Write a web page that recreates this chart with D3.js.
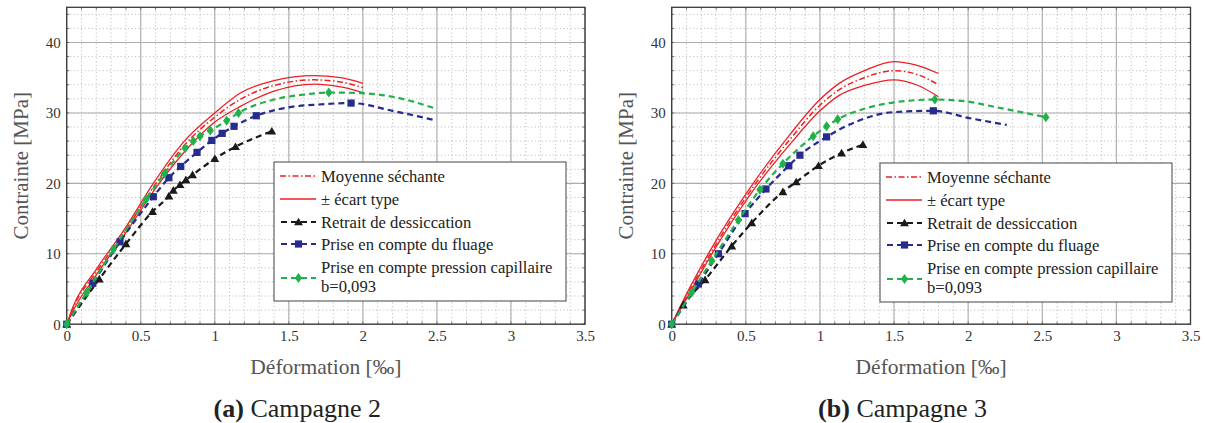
<!DOCTYPE html>
<html><head><meta charset="utf-8">
<script src="https://cdn.jsdelivr.net/npm/d3@7"></script>
<style>
body{margin:0;background:#fff;}
svg text{font-family:"Liberation Serif","Times New Roman",serif;}
</style></head>
<body><svg id="c" width="1205" height="423"></svg>
<script>
// ---- data ----
const xTicks = [0, 0.5, 1, 1.5, 2, 2.5, 3, 3.5];
const yTicks = [0, 10, 20, 30, 40];
const xLabel = "Déformation [‰]";
const yLabel = "Contrainte [MPa]";
const legendLabels = ["Moyenne séchante", "± écart type", "Retrait de dessiccation", "Prise en compte du fluage", "Prise en compte pression capillaire", "b=0,093"];
const captions = [["(a)", " Campagne 2"], ["(b)", " Campagne 3"]];

// Campagne 2
const a_mean  = [[0,0],[0.045,2.4],[0.2,7.4],[0.4,13.4],[0.59,19.6],[0.79,25.3],[1.0,29.4],[1.17,31.9],[1.4,33.9],[1.67,34.7],[1.85,34.4],[2.0,33.6]];
const a_upper = [[0,0],[0.045,2.6],[0.2,7.8],[0.4,13.8],[0.585,20.0],[0.79,25.9],[1.0,30.0],[1.17,32.8],[1.4,34.6],[1.67,35.3],[1.85,35.0],[2.0,34.2]];
const a_lower = [[0,0],[0.05,2.2],[0.2,7.0],[0.4,13.0],[0.6,19.3],[0.8,24.6],[1.0,28.7],[1.17,30.9],[1.4,33.1],[1.67,34.1],[1.85,33.7],[2.0,32.9]];
const a_retrait = [[0,0],[0.22,6.4],[0.4,11.4],[0.58,16.0],[0.69,18.2],[0.72,19.0],[0.765,19.8],[0.805,20.5],[0.85,21.2],[1.0,23.5],[1.14,25.2],[1.385,27.4]];
const a_retrait_marks = [0,1,2,3,4,5,6,7,8,9,10,11];
const a_fluage = [[0,0],[0.176,5.8],[0.36,11.7],[0.585,18.1],[0.69,20.8],[0.77,22.4],[0.88,24.4],[0.98,26.1],[1.05,27.1],[1.13,28.1],[1.28,29.6],[1.5,30.8],[1.7,31.2],[1.92,31.4],[2.2,30.3],[2.48,29.0]];
const a_fluage_marks = [0,1,2,3,4,5,6,7,8,9,10,13];
const a_capil = [[0,0],[0.135,4.5],[0.315,10.6],[0.535,17.7],[0.66,21.4],[0.8,25.0],[0.855,26.0],[0.9,26.7],[0.97,27.5],[1.08,28.9],[1.16,30.0],[1.4,31.9],[1.6,32.6],[1.77,32.9],[2.0,32.8],[2.2,32.3],[2.48,30.7]];
const a_capil_marks = [0,1,2,3,4,5,6,7,8,9,10,13];

// Campagne 3
const b_mean  = [[0,0],[0.05,2.0],[0.28,10.7],[0.55,19.5],[0.8,26.3],[1.0,31.1],[1.13,33.3],[1.3,35.0],[1.5,36.0],[1.65,35.5],[1.8,34.0]];
const b_upper = [[0,0],[0.05,2.2],[0.28,11.2],[0.55,20.0],[0.8,27.0],[1.0,31.9],[1.13,34.2],[1.3,36.0],[1.5,37.3],[1.65,36.8],[1.8,35.6]];
const b_lower = [[0,0],[0.05,1.8],[0.28,10.3],[0.55,19.0],[0.8,25.6],[1.0,30.3],[1.13,32.5],[1.3,33.9],[1.5,34.7],[1.65,34.0],[1.8,32.3]];
const b_retrait = [[0,0],[0.078,2.7],[0.225,6.3],[0.405,11.1],[0.54,14.4],[0.75,18.8],[0.84,20.2],[0.99,22.5],[1.146,24.3],[1.29,25.5]];
const b_retrait_marks = [0,1,2,3,4,5,6,7,8,9];
const b_fluage = [[0,0],[0.18,5.7],[0.315,10.0],[0.495,15.7],[0.636,19.2],[0.79,22.5],[0.865,24.0],[1.045,26.6],[1.25,28.8],[1.49,30.1],[1.765,30.3],[2.0,29.3],[2.26,28.3]];
const b_fluage_marks = [0,1,2,3,4,5,6,7,10];
const b_capil = [[0,0],[0.135,4.5],[0.27,9.0],[0.45,14.8],[0.595,19.1],[0.75,22.8],[0.955,26.7],[1.045,28.1],[1.12,29.1],[1.3,30.6],[1.5,31.5],[1.775,31.9],[2.0,31.6],[2.17,30.9],[2.524,29.4]];
const b_capil_marks = [0,1,2,3,4,5,6,7,8,11,14];

const panels = [
  {left:66.7, right:585, legend:[274,162], cap:captions[0],
   mean:a_mean, upper:a_upper, lower:a_lower,
   retrait:a_retrait, retraitM:a_retrait_marks, fluage:a_fluage, fluageM:a_fluage_marks, capil:a_capil, capilM:a_capil_marks},
  {left:671.7, right:1190.5, legend:[880,163], cap:captions[1],
   mean:b_mean, upper:b_upper, lower:b_lower,
   retrait:b_retrait, retraitM:b_retrait_marks, fluage:b_fluage, fluageM:b_fluage_marks, capil:b_capil, capilM:b_capil_marks}
];

const RED = "#ec2024", BLACK = "#1a1a1a", BLUE = "#262b8e", GREEN = "#22b04a";
const svg = d3.select("#c");
const plotTop = 7.3, plotBottom = 324.2;

function marker(g, type, x, y, color){
  if(type==="tri"){
    g.append("path").attr("d", d3.symbol(d3.symbolTriangle, 34)()).attr("transform",`translate(${x},${y+0.8})`).attr("fill",color);
  } else if(type==="sq"){
    g.append("rect").attr("x",x-3.6).attr("y",y-3.6).attr("width",7.2).attr("height",7.2).attr("fill",color);
  } else {
    g.append("path").attr("d","M0,-5L3.6,0L0,5L-3.6,0Z").attr("transform",`translate(${x},${y})`).attr("fill",color);
  }
}

panels.forEach(p => {
  const x = d3.scaleLinear().domain([0,3.5]).range([p.left, p.right]);
  const y = d3.scaleLinear().domain([0,45]).range([plotBottom, plotTop]);
  const g = svg.append("g");

  // minor grid
  const xMinor = d3.range(0, 3.5001, 0.1).map(v => +v.toFixed(2));
  const yMinor = d3.range(0, 45.001, 2);
  g.selectAll(".mgx").data(xMinor).join("line")
    .attr("x1",d=>x(d)).attr("x2",d=>x(d)).attr("y1",plotTop).attr("y2",plotBottom)
    .attr("stroke","#b0b0b0").attr("stroke-width",0.9).attr("stroke-dasharray","1,2.6");
  g.selectAll(".mgy").data(yMinor).join("line")
    .attr("x1",p.left).attr("x2",p.right).attr("y1",d=>y(d)).attr("y2",d=>y(d))
    .attr("stroke","#b0b0b0").attr("stroke-width",0.9).attr("stroke-dasharray","1,2.6");
  // major grid
  g.selectAll(".gx").data(xTicks).join("line")
    .attr("x1",d=>x(d)).attr("x2",d=>x(d)).attr("y1",plotTop).attr("y2",plotBottom)
    .attr("stroke","#adadad").attr("stroke-width",1.1);
  g.selectAll(".gy").data(yTicks).join("line")
    .attr("x1",p.left).attr("x2",p.right).attr("y1",d=>y(d)).attr("y2",d=>y(d))
    .attr("stroke","#adadad").attr("stroke-width",1.1);

  // small inside ticks on all sides
  const tk = g.append("g").attr("stroke","#555").attr("stroke-width",0.8);
  xMinor.forEach(v => {
    const len = 2.5;
    tk.append("line").attr("x1",x(v)).attr("x2",x(v)).attr("y1",plotBottom).attr("y2",plotBottom-len);
    tk.append("line").attr("x1",x(v)).attr("x2",x(v)).attr("y1",plotTop).attr("y2",plotTop+len);
  });
  yMinor.forEach(v => {
    const len = 2.5;
    tk.append("line").attr("y1",y(v)).attr("y2",y(v)).attr("x1",p.left).attr("x2",p.left+len);
    tk.append("line").attr("y1",y(v)).attr("y2",y(v)).attr("x1",p.right).attr("x2",p.right-len);
  });

  // axes via d3
  const xAxis = d3.axisBottom(x).tickValues(xTicks).tickSize(0).tickPadding(6).tickFormat(d => String(d));
  const yAxis = d3.axisLeft(y).tickValues(yTicks).tickSize(0).tickPadding(6).tickFormat(d => String(d));
  const gx = g.append("g").attr("transform",`translate(0,${plotBottom})`).call(xAxis);
  const gy = g.append("g").attr("transform",`translate(${p.left},0)`).call(yAxis);
  [gx, gy].forEach(a => {
    a.select(".domain").remove();
    a.selectAll("text").attr("font-size",15).attr("fill","#333").attr("font-family","Liberation Serif, serif");
  });
  gx.selectAll("text").attr("dy","0.71em");

  // frame
  g.append("rect").attr("x",p.left).attr("y",plotTop).attr("width",p.right-p.left).attr("height",plotBottom-plotTop)
    .attr("fill","none").attr("stroke","#3a3a3a").attr("stroke-width",1.3);

  // lines
  const line = d3.line().x(d=>x(d[0])).y(d=>y(d[1])).curve(d3.curveMonotoneX);
  const plotG = g.append("g");
  plotG.append("path").datum(p.upper).attr("d",line).attr("fill","none").attr("stroke",RED).attr("stroke-width",1.3);
  plotG.append("path").datum(p.lower).attr("d",line).attr("fill","none").attr("stroke",RED).attr("stroke-width",1.3);
  plotG.append("path").datum(p.mean).attr("d",line).attr("fill","none").attr("stroke",RED).attr("stroke-width",1.5).attr("stroke-dasharray","6,2.5,1.5,2.5");
  const series = [
    {d:p.retrait, m:p.retraitM, c:BLACK, t:"tri"},
    {d:p.fluage, m:p.fluageM, c:BLUE, t:"sq"},
    {d:p.capil, m:p.capilM, c:GREEN, t:"dia"}
  ];
  series.forEach(s => {
    plotG.append("path").datum(s.d).attr("d",line).attr("fill","none").attr("stroke",s.c)
      .attr("stroke-width",2.2).attr("stroke-dasharray","6,4");
    s.m.forEach(i => marker(plotG, s.t, x(s.d[i][0]), y(s.d[i][1]), s.c));
  });

  // legend
  const [L,T] = p.legend;
  const lg = g.append("g");
  lg.append("rect").attr("x",L).attr("y",T).attr("width",292).attr("height",139)
    .attr("fill","#fff").attr("stroke","#555").attr("stroke-width",1.1);
  const rows = [14, 37, 60, 82, 105, 124];
  const symRows = [14, 37, 60, 82, 116];
  const sx1 = L+6, sx2 = L+42, mx = L+24.5;
  lg.append("line").attr("x1",sx1).attr("x2",sx2).attr("y1",T+symRows[0]).attr("y2",T+symRows[0])
    .attr("stroke",RED).attr("stroke-width",1.5).attr("stroke-dasharray","6,2.5,1.5,2.5");
  lg.append("line").attr("x1",sx1).attr("x2",sx2).attr("y1",T+symRows[1]).attr("y2",T+symRows[1])
    .attr("stroke",RED).attr("stroke-width",1.3);
  series.forEach((s,i) => {
    const yy = T+symRows[i+2];
    lg.append("line").attr("x1",sx1).attr("x2",sx2).attr("y1",yy).attr("y2",yy)
      .attr("stroke",s.c).attr("stroke-width",2.2).attr("stroke-dasharray","6,4").attr("stroke-dashoffset",-1);
    marker(lg, s.t, mx, yy, s.c);
  });
  legendLabels.forEach((t,i) => {
    lg.append("text").attr("x",L+47).attr("y",T+rows[i]).attr("dy","0.35em")
      .attr("font-size",16.6).attr("fill","#222").text(t);
  });

  // axis titles
  const cx = (p.left+p.right)/2;
  g.append("text").attr("x",cx).attr("y",366).attr("dy","0.35em").attr("text-anchor","middle")
    .attr("font-size",21.5).attr("fill","#555").text(xLabel);
  g.append("text").attr("transform",`translate(${p.left-46},${(plotTop+plotBottom)/2}) rotate(-90)`)
    .attr("dy","0.35em").attr("text-anchor","middle").attr("font-size",21).attr("fill","#555").text(yLabel);

  // caption (centred on the whole sub-figure, y label included)
  const capX = (p.left - 57 + p.right)/2;
  const cap = g.append("text").attr("x",capX).attr("y",417).attr("text-anchor","middle").attr("font-size",26).attr("fill","#222");
  cap.append("tspan").attr("font-weight","bold").text(p.cap[0]);
  cap.append("tspan").text(p.cap[1]);
});
</script></body></html>
